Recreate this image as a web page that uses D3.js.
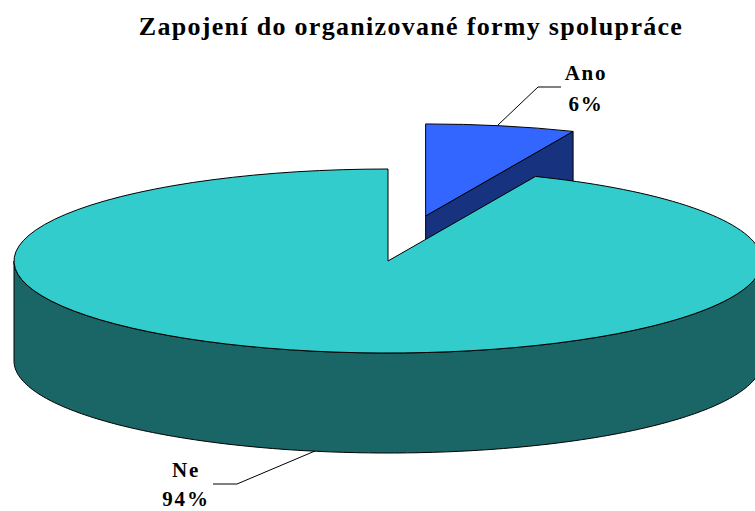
<!DOCTYPE html>
<html>
<head>
<meta charset="utf-8">
<script src="https://cdnjs.cloudflare.com/ajax/libs/d3/7.8.5/d3.min.js"></script>
<style>
	html, body { margin: 0; padding: 0; background: #fff; overflow: hidden; }
	svg { display: block; }
	text { font-family: "Liberation Serif", serif; font-weight: bold; fill: #000; text-anchor: middle; }
</style>
</head>
<body>
<svg id="chart" width="755" height="511"></svg>
<script>
var title = "Zapojení do organizované formy spolupráce";
var categories = ["Ano", "Ne"];
var values = [6.45, 93.55];
var colors = ["#3366ff", "#33cccc"];
var wallColors = ["#17337f", "#1a6666"];

var cx = 388, cy = 261, rx = 374, ry = 92, depth = 100;
var explode = 0.5;

var svg = d3.select("#chart");

var X = d3.scaleLinear().domain([-1, 1]).range([cx - rx, cx + rx]);
var Y = d3.scaleLinear().domain([-1, 1]).range([cy - ry, cy + ry]);

var slices = d3.pie().sort(null).value(function(d) { return d; })(values);

// flat arc, squeezed into an ellipse by the transform
var arc = d3.arc().innerRadius(0).outerRadius(rx);

function sx(a, r) { return X(r * Math.sin(a)); }
function sy(a, r) { return Y(-r * Math.cos(a)); }

function offset(s) {
	if (s.index != 0) return [0, 0];
	var mid = (s.startAngle + s.endAngle) / 2;
	return [rx * explode * Math.sin(mid), -ry * explode * Math.cos(mid)];
}

var wall = d3.area()
	.x(function(d) { return d[0]; })
	.y0(function(d) { return d[1]; })
	.y1(function(d) { return d[1] + depth; });

function drawTop(g, s) {
	var o = offset(s);
	g.append("path")
		.attr("d", arc(s))
		.attr("transform", "translate(" + (cx + o[0]) + "," + (cy + o[1]) + ") scale(1," + (ry / rx) + ")")
		.attr("fill", colors[s.index])
		.attr("stroke", "#000")
		.attr("stroke-width", 1)
		.attr("vector-effect", "non-scaling-stroke");
}

var g = svg.append("g");

// small slice goes first, the big one covers the lower part of its wall
var a = slices[0], oa = offset(a);
g.append("path")
	.attr("d", wall([
		[cx + oa[0], cy + oa[1]],
		[sx(a.endAngle, 1) + oa[0], sy(a.endAngle, 1) + oa[1]]
	]))
	.attr("fill", wallColors[0])
	.attr("stroke", "#000");
drawTop(g, a);

// outer wall of the big slice, front half only
var front = d3.range(90, 270.5, 1).map(function(t) {
	var r = t * Math.PI / 180;
	return [sx(r, 1), sy(r, 1)];
});
g.append("path")
	.attr("d", wall(front))
	.attr("fill", wallColors[1])
	.attr("stroke", "#000");
drawTop(g, slices[1]);

// leader lines
var leaders = [
	[[498, 125], [538, 87], [561, 87]],
	[[315, 451], [237, 484], [213, 484]]
];
var line = d3.line();
svg.selectAll(".leader").data(leaders).enter().append("path")
	.attr("class", "leader")
	.attr("d", line)
	.attr("fill", "none")
	.attr("stroke", "#000")
	.attr("stroke-width", 1);

// labels
var labelPos = [[586, 80, 111], [186, 477, 506]];
categories.forEach(function(c, i) {
	svg.append("text").attr("x", labelPos[i][0]).attr("y", labelPos[i][1])
		.attr("font-size", 21).attr("letter-spacing", 1.8).text(c);
	svg.append("text").attr("x", labelPos[i][0]).attr("y", labelPos[i][2])
		.attr("font-size", 21).attr("letter-spacing", 1.8).text(Math.round(values[i]) + "%");
});

svg.append("text").attr("x", 411).attr("y", 35)
	.attr("font-size", 26)
	.attr("letter-spacing", 1.3)
	.text(title);
</script>
</body>
</html>
